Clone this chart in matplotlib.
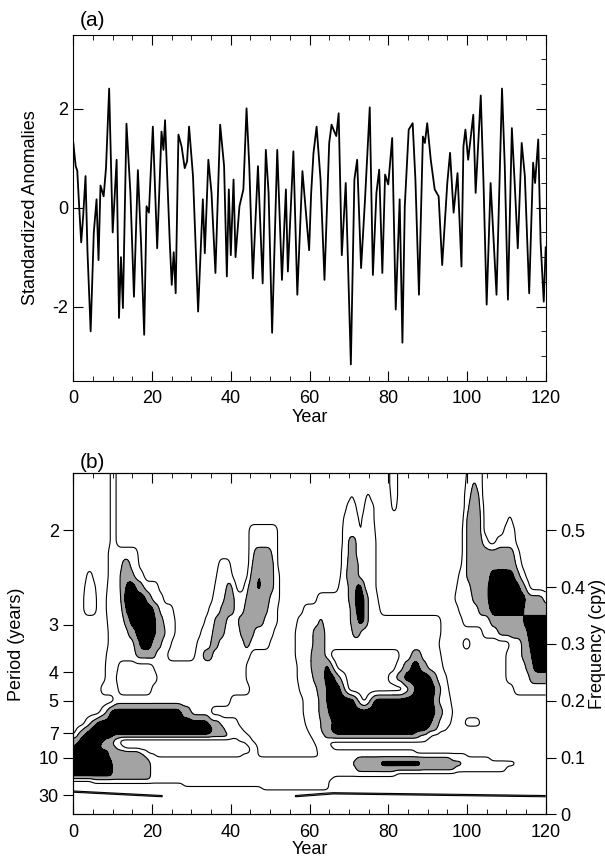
import numpy as np
import matplotlib
matplotlib.use("Agg")
import matplotlib.pyplot as plt
from matplotlib.ticker import MultipleLocator, FixedLocator

plt.rcParams['font.family'] = ['Liberation Sans', 'DejaVu Sans']
plt.rcParams['font.size'] = 13

# (a) standardized anomalies (year, value)
series_year = [0.0, 0.6, 1.0, 1.5, 2.0, 2.5, 3.1, 3.6, 4.4, 4.9, 5.2, 5.9, 6.4, 6.9, 7.7, 8.3,
               9.1, 10.0, 11.0, 11.6, 12.1, 12.6, 13.5, 14.5, 15.4, 16.4, 17.2, 18.0, 18.6,
               19.2, 20.2, 21.3, 22.4, 22.9, 23.3, 24.5, 25.0, 25.5, 26.0, 26.7, 27.5, 28.3,
               28.9, 29.4, 30.4, 31.7, 32.9, 33.4, 34.3, 35.1, 36.1, 37.3, 38.3, 39.0, 39.5,
               40.0, 40.7, 41.2, 42.2, 43.2, 44.0, 44.7, 45.6, 46.9, 48.1, 48.9, 49.6, 50.5,
               51.8, 53.0, 54.0, 54.5, 55.9, 56.9, 58.2, 59.9, 60.4, 61.0, 61.8, 62.8, 63.8,
               65.0, 65.6, 66.3, 66.8, 67.4, 68.2, 69.2, 70.5, 71.4, 72.1, 73.1, 74.1, 75.3,
               76.1, 77.0, 77.7, 78.5, 79.2, 80.0, 81.0, 81.9, 82.9, 83.6, 84.2, 85.2, 86.2,
               86.9, 87.8, 88.8, 89.3, 89.9, 90.8, 91.8, 92.8, 93.7, 95.0, 95.7, 96.6, 97.6,
               98.6, 99.1, 99.6, 100.3, 101.6, 102.2, 103.5, 104.2, 105.0, 106.0, 107.5,
               108.9, 109.6, 110.4, 111.4, 112.2, 112.9, 113.9, 114.7, 115.8, 116.8, 117.3,
               118.1, 118.7, 119.5, 120.0]
series_value = [1.31, 0.84, 0.75, 0.0, -0.7, -0.17, 0.64, -0.9, -2.5, -1.25, -0.5, 0.17, -1.06,
                0.45, 0.23, 0.8, 2.41, -0.5, 0.97, -2.23, -1.0, -2.03, 1.7, 0.3, -1.8, 0.76,
                -0.7, -2.57, 0.03, -0.1, 1.64, -0.82, 1.54, 1.17, 1.77, -0.7, -1.56, -0.9,
                -1.73, 1.48, 1.24, 0.8, 0.94, 1.64, 0.64, -2.1, 0.17, -0.92, 0.97, 0.3, -1.32,
                1.68, 0.84, -1.39, 0.37, -0.96, 0.57, -1.0, 0.03, 0.37, 2.01, 0.84, -1.43,
                0.84, -1.53, 1.17, 0.3, -2.53, 1.17, -1.46, 0.37, -1.29, 1.14, -1.76, 0.74,
                -0.86, 0.27, 1.1, 1.64, 0.57, -1.46, 1.31, 1.68, 1.54, 1.45, 1.91, -0.96, 0.5,
                -3.17, 0.57, 0.97, -1.22, 0.17, 2.03, -1.36, 0.3, 0.77, -1.32, 0.67, 0.47,
                1.41, -2.06, 0.17, -2.73, 0.03, 1.58, 1.71, 0.57, -1.76, 1.44, 1.31, 1.71,
                0.97, 0.37, 0.23, -1.16, 0.5, 1.11, -0.1, 0.7, -1.19, 1.24, 1.58, 0.97, 1.88,
                0.3, 2.27, 0.5, -1.96, 0.5, -1.76, 2.41, 0.84, -1.86, 1.61, 0.37, -0.82, 1.31,
                0.64, -1.73, 0.91, 0.5, 1.38, -0.7, -1.9, -0.8]

# (b) contour level codes, one row per frequency (cpy).
# each row: "year:level" changes from left to right (0 below first contour, 3 = black)
contour_freq = [0.000, 0.040, 0.046, 0.052, 0.058, 0.064, 0.070, 0.080, 0.090, 0.098,
                0.104, 0.110, 0.117, 0.124, 0.131, 0.137, 0.143, 0.150, 0.160, 0.180,
                0.200, 0.220, 0.240, 0.260, 0.280, 0.300, 0.320, 0.340, 0.360, 0.380,
                0.400, 0.420, 0.440, 0.460, 0.480, 0.500, 0.520, 0.540, 0.560, 0.580, 0.600]
contour_rows = [
    "0:0",
    "0:0",
    "0:0 48:1 65:0",
    "0:0 28:1 65:0",
    "0:0 5:1 65:0",
    "0:2 19.6:1 66:0",
    "0:3 9.8:2 19.6:1 82:0",
    "0:3 9.8:2 19.6:1 72:2 97:1 110:0",
    "0:3 9.8:2 19.6:1 71:2 78:3 88.3:2 99:1 112.5:0",
    "0:3 9.5:2 19:1 72:2 96:1 106:0",
    "0:3 9:2 18:1 21:0 43:1 47:0 62.5:1 100:0",
    "0:3 9:2 17:1 19:0 45:1 47:0 62:1 87:0",
    "0:3 7:2 11:1 13:0 45:1 47:0 62:1 66:0",
    "0:2 0.8:3 7:2 10:1 12:0 44:1 46.5:0 61.5:1 65:0",
    "0:2 1.6:3 8:2 10.5:1 12:0 42:1 45.5:0 61:1 90:0",
    "0:1 0.8:2 2.4:3 10:2 40:1 45:0 60.5:1 64:2 88:1 91:0",
    "0:0 0.5:1 1.5:2 3.3:3 35:2 39:1 44:0 60:1 63.5:2 66.5:3 87:2 90:1 93:0",
    "0:0 1:1 2.5:2 4.4:3 35.5:2 38.5:1 43:0 59.5:1 63:2 65.5:3 90:2 92.5:1 95:0",
    "0:0 2.9:1 4.5:2 6:3 34.5:2 37.5:1 42:0 59:1 63:2 66:3 91:2 93:1 96:0 99.5:1 103.5:0",
    "0:0 6.9:1 8.3:2 9.3:3 27.5:2 30:1 35:0 58.5:1 62.5:2 65:3 92:2 94:1 96.5:0",
    "0:0 10.5:1 40:0 58.5:1 62.3:2 64.5:3 71.5:2 72.5:1 73.3:0 74.5:1 75.5:2 76.5:3 91.5:2 93:1 96:0",
    "0:0 7:1 11.5:0 20:1 45:0 57.5:1 62:2 64.5:3 68:2 69:1 70:0 84:1 85.5:2 87:3 92:2 93.5:1 95.5:0 112:1",
    "0:0 8.2:1 11:0 21.5:1 44:0 57:1 61:2 64:3 66.5:2 68:1 69.5:0 80:1 82:2 84:3 91:2 92.5:1 95:0 110:1 116:2",
    "0:0 8.2:1 11.5:0 20.5:1 44:0 56.8:1 60.5:2 63.8:3 65:2 66:1 67:0 82:1 84:2 86:3 88:2 90:1 94:0 110:1 115:2 117:3",
    "0:0 8.4:1 16:2 21:1 24:0 31:1 33:2 35.5:1 45:0 56.5:1 60.5:2 64:1 65.5:0 83:1 86:2 88.5:1 93.5:0 110:1 114:2 116.5:3",
    "0:0 9:1 15.5:2 17:3 20:2 22.5:1 25:0 31.5:1 35:2 37:1 43.3:2 45:1 50:0 56.5:1 61:2 64:1 93:0 99:1 101:0 111:1 114:2 116:3",
    "0:0 9:1 14:2 16:3 20.8:2 23.5:1 26:0 32.5:1 35.5:2 38.5:1 42.5:2 46:1 51:0 56.5:1 61:2 64:1 71:2 73:1 93.5:0 104:1 108:2 115.5:3",
    "0:0 8.6:1 13:2 14.5:3 21:2 23:1 26:0 33.5:1 36:2 39:1 42:2 48.5:1 52:0 57:1 62.3:2 63.5:1 70.5:2 72.5:3 74:2 75:1 93.5:0 99:1 106:2 114.5:3",
    "0:0 2.7:1 6:0 8.5:1 12.3:2 13.3:3 20.5:2 22:1 25.5:0 34.5:1 37.5:2 41:1 43.5:2 49.5:1 52:0 58.5:1 70.5:2 72:3 74:2 74.8:1 77.8:0 98:1 103:2 106:3 114.5:2",
    "0:0 2.7:1 6:0 8.5:1 12.2:2 13:3 18.5:2 20:1 23:0 35.5:1 38.5:2 41:1 44:2 50:1 52.5:0 62:1 70:2 71.7:3 74:2 74.8:1 77.5:0 97:1 101.5:2 105.5:3 114.8:2 119.5:1",
    "0:0 2.8:1 5.6:0 8.6:1 12:2 13.5:3 16:2 18:1 21.6:0 36:1 39:2 40.5:1 41.5:0 43.5:1 44.5:2 46.7:3 47.7:2 51:1 52.5:0 67.5:1 70:2 71.8:3 73.3:2 74:1 77:0 97.5:1 101:2 105.3:3 113.5:2 115:1 116:0",
    "0:0 3.5:1 4.8:0 8.8:1 12:2 15.5:1 18:0 36.5:1 40.5:0 44.5:1 45:2 46.8:3 47.6:2 51:1 52.5:0 68:1 69.5:2 72.5:1 77:0 97.8:1 100:2 106:3 112:2 113.5:1 115:0",
    "0:0 9:1 12.5:2 14.5:1 16.7:0 37:1 40:0 44.6:1 45.5:2 51:1 52:0 68.1:1 69.6:2 72.3:1 77:0 98.6:1 100:2 112.5:1 114:0",
    "0:0 9:1 16.5:0 44.6:1 46:2 50.5:1 52:0 68.2:1 69.8:2 72:1 72.9:0 73.1:1 76.9:0 98.8:1 99.8:2 112:1 113.3:0",
    "0:0 9.3:1 10.8:0 44.6:1 52:0 68.3:1 70:2 71.8:1 72.8:0 73.2:1 76.8:0 98.9:1 99.8:2 103.8:1 105.5:0 107.5:1 112.4:0",
    "0:0 9.3:1 10.8:0 44.6:1 52:0 68.3:1 72.7:0 73.3:1 76.7:0 99:1 99.9:2 101.3:3 102.2:2 103.7:1 104.2:0 109.5:1 112.2:0",
    "0:0 9.3:1 10.8:0 68.6:1 72.5:0 73.5:1 76.5:0 99.1:1 100:2 101.3:3 102.2:2 103.6:1 104.1:0 110.5:1 111.5:0",
    "0:0 9.3:1 10.8:0 69.3:1 72:0 73.8:1 76.3:0 80.8:1 82.2:0 99.3:1 100.3:2 103.5:1 104.1:0",
    "0:0 9.3:1 10.8:0 70.3:1 71.2:0 74.5:1 75.5:0 80.6:1 82.4:0 99.5:1 100.8:2 103.2:1 104:0",
    "0:0 9.3:1 10.8:0 80.5:1 82.5:0 99.7:1 101.5:2 102.5:1 104:0",
    "0:0 9.3:1 10.8:0 80.5:1 82.5:0 99.8:1 104:0",
]

# very thin first-level streaks near the bottom (year, frequency) along each streak
streak_year = [[0.0, 22.6], [56.4, 66.0, 120.0]]
streak_freq = [[0.040, 0.032], [0.032, 0.037, 0.032]]

period_ticks = [2, 3, 4, 5, 7, 10, 30]
freq_ticks = [0, 0.1, 0.2, 0.3, 0.4, 0.5]


def row_values(text, years):
    vals = np.zeros_like(years)
    for part in text.split():
        start, level = part.split(":")
        vals[years >= float(start)] = float(level)
    return vals


def soften(z, sx, sy):
    # light gaussian rounding of the stepped level map, for drawing only
    for axis, s in ((1, sx), (0, sy)):
        half = int(3 * s) + 1
        k = np.exp(-0.5 * (np.arange(-half, half + 1) / s) ** 2)
        k /= k.sum()
        pad = [(0, 0), (0, 0)]
        pad[axis] = (half, half)
        zp = np.pad(z, pad, mode='edge')
        z = np.apply_along_axis(lambda v: np.convolve(v, k, mode='valid'), axis, zp)
    return z


grid_years = np.arange(0, 120.01, 0.25)
grid_freq = np.arange(0, 0.6001, 0.001)
coarse = np.array([row_values(r, grid_years) for r in contour_rows])
grid = np.array([np.interp(grid_freq, contour_freq, coarse[:, i])
                 for i in range(len(grid_years))]).T
grid = soften(grid, 2.4, 4.0)

for sy_, sf_ in zip(streak_year, streak_freq):
    for j, yr in enumerate(grid_years):
        if sy_[0] <= yr <= sy_[-1]:
            centre = np.interp(yr, sy_, sf_)
            grid[:, j] += np.clip(1 - np.abs(grid_freq - centre) / 0.0022, 0, None)

fig = plt.figure(figsize=(6.05, 8.61), dpi=100)
ax1 = fig.add_axes([0.1212, 0.5578, 0.7808, 0.4019])
ax2 = fig.add_axes([0.1212, 0.0542, 0.7808, 0.3960])

# top panel
ax1.plot(series_year, series_value, color='black', lw=1.3)
ax1.set_xlim(0, 120)
ax1.set_ylim(-3.5, 3.5)
ax1.set_yticks([-2, 0, 2])
ax1.set_yticklabels(['-2', '0', '2'])
ax1.xaxis.set_major_locator(MultipleLocator(20))
ax1.xaxis.set_minor_locator(MultipleLocator(5))
ax1.yaxis.set_minor_locator(MultipleLocator(0.5))
ax1.tick_params(which='both', direction='in', top=True, right=True, labelsize=13)
ax1.tick_params(which='major', length=7, width=0.8)
ax1.tick_params(which='minor', length=3.5, width=0.6, left=False)
ax1.tick_params(axis='x', pad=7)
ax1.set_xlabel('Year', fontsize=13, labelpad=1)
ax1.set_ylabel('Standardized Anomalies', fontsize=13)
ax1.yaxis.set_label_coords(-0.0726, 0.5)

# bottom panel
ax2.contourf(grid_years, grid_freq, grid, levels=[1.5, 2.5, 10],
             colors=['#a3a3a3', 'black'])
ax2.contour(grid_years, grid_freq, grid, levels=[0.5, 1.5, 2.5],
            colors='black', linewidths=0.8)
ax2.set_xlim(0, 120)
ax2.set_ylim(0, 0.6)
ax2.xaxis.set_major_locator(MultipleLocator(20))
ax2.xaxis.set_minor_locator(MultipleLocator(5))
ax2.yaxis.set_major_locator(FixedLocator([1.0 / p for p in period_ticks]))
ax2.set_yticklabels([str(p) for p in period_ticks])
ax2.tick_params(axis='x', which='both', direction='in', top=True, labelsize=13, pad=7)
ax2.tick_params(axis='x', which='major', length=7, width=0.8)
ax2.tick_params(axis='x', which='minor', length=3.5, width=0.6)
ax2.tick_params(axis='y', direction='out', length=7, width=0.8, labelsize=13)
ax2.set_xlabel('Year', fontsize=13, labelpad=0)
ax2.set_ylabel('Period (years)', fontsize=13)
ax2.yaxis.set_label_coords(-0.102, 0.5)

ax3 = ax2.twinx()
ax3.set_ylim(0, 0.6)
ax3.set_yticks(freq_ticks)
ax3.set_yticklabels(['0', '0.1', '0.2', '0.3', '0.4', '0.5'])
ax3.tick_params(axis='y', direction='out', length=7, width=0.8, labelsize=13)
ax3.set_ylabel('Frequency (cpy)', fontsize=13)
ax3.yaxis.set_label_coords(1.0917, 0.5)

fig.text(80 / 605, 1 - 20 / 861, '(a)', fontsize=15, ha='left', va='center')
fig.text(80 / 605, 1 - 463 / 861, '(b)', fontsize=15, ha='left', va='center')

fig.savefig('out.png', dpi=100)
